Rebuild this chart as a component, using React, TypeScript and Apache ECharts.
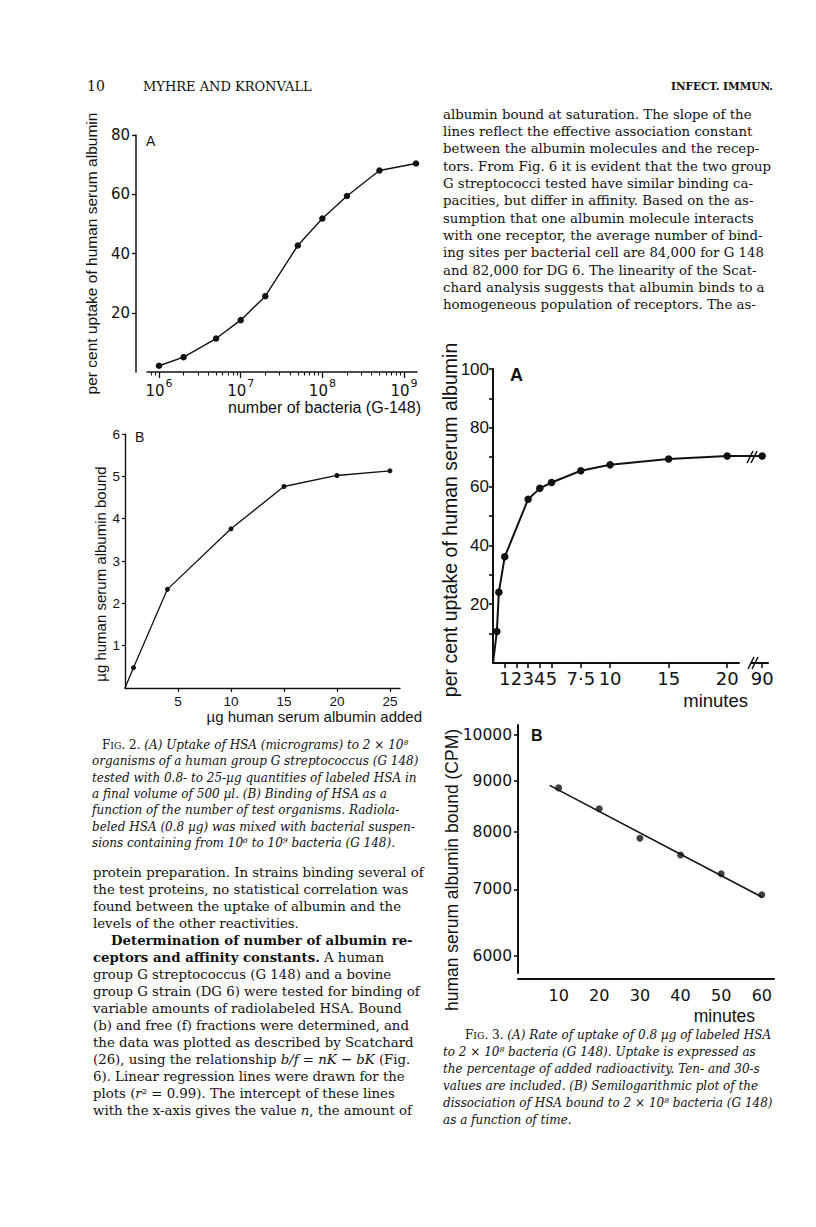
import React, { useEffect, useRef } from 'react';
import * as echarts from 'echarts';

// ---------- Fig. 2A : uptake vs number of bacteria (log x) ----------
const fig2aBacteria = [1e6, 2e6, 5e6, 1e7, 2e7, 5e7, 1e8, 2e8, 5e8, 1.4e9];
const fig2aUptake = [2.1, 5.0, 11.3, 17.5, 25.6, 42.7, 51.8, 59.4, 68.0, 70.4];
const fig2aDecades = [6, 7, 8, 9];
const fig2aMinorBacteria = [
  8e5, 9e5, 2e6, 3e6, 4e6, 5e6, 6e6, 7e6, 8e6, 9e6, 2e7, 3e7, 4e7, 5e7, 6e7, 7e7, 8e7, 9e7,
  2e8, 3e8, 4e8, 5e8, 6e8, 7e8, 8e8, 9e8,
];
const fig2aYTicks = [20, 40, 60, 80];

// ---------- Fig. 2B : bound vs added ----------
const fig2bAdded = [0, 0.8, 4, 10, 15, 20, 25];
const fig2bBound = [0, 0.48, 2.33, 3.76, 4.76, 5.02, 5.13];
const fig2bXTicks = [5, 10, 15, 20, 25];
const fig2bYTicks = [1, 2, 3, 4, 5, 6];

// ---------- Fig. 3A : uptake vs time (broken axis 20 -> 90) ----------
const fig3aMinutes = [0, 0.33, 0.5, 1, 3, 4, 5, 7.5, 10, 15, 20, 90];
const fig3aUptake = [0, 10.7, 24.1, 36.1, 55.7, 59.4, 61.4, 65.4, 67.4, 69.4, 70.4, 70.4];
const fig3aXTicks = [1, 2, 3, 4, 5, 7.5, 10, 15, 20, 90];
const fig3aYLabels = [20, 40, 60, 80, 100];
const fig3aYTicks = [10, 20, 30, 40, 50, 60, 70, 80, 90, 100];

// ---------- Fig. 3B : semilog dissociation ----------
const fig3bMinutes = [10, 20, 30, 40, 50, 60];
const fig3bCpm = [8849, 8434, 7879, 7578, 7257, 6915];
const fig3bFitMinutes = [7.8, 60];
const fig3bFitCpm = [8900, 6880];
const fig3bXTicks = [10, 20, 30, 40, 50, 60];
const fig3bYTicks = [6000, 7000, 8000, 9000, 10000];

const K = '#111';
const SANS = 'DejaVu Sans';
const NAME = 'Liberation Sans';
const SERIF = 'DejaVu Serif';
const lg = (v: number) => Math.log10(v);

type TStyle = { size: number; family: string; style?: string; weight?: string | number; align?: string };

function richFor(size: number, italicBase: boolean) {
  return {
    b: { fontSize: size, fontFamily: SERIF, fontWeight: 'bold', fontStyle: 'normal', fill: K },
    i: { fontSize: size, fontFamily: SERIF, fontStyle: 'italic', fill: K },
    n: { fontSize: size, fontFamily: SERIF, fontStyle: 'normal', fill: K },
    sc: { fontSize: size * 0.78, fontFamily: SERIF, fontStyle: 'normal', fill: K },
    r: { fontSize: size, fontFamily: SERIF, fontStyle: italicBase ? 'italic' : 'normal', fill: K },
  };
}

function txt(text: string, x: number, y: number, s: TStyle, extra: any = {}) {
  return {
    type: 'text',
    x,
    y,
    silent: true,
    ...extra,
    style: {
      text,
      fill: K,
      fontSize: s.size,
      fontFamily: s.family,
      fontStyle: s.style || 'normal',
      fontWeight: s.weight || 'normal',
      align: s.align || 'left',
      textAlign: s.align || 'left',
      verticalAlign: 'middle',
      textVerticalAlign: 'middle',
      rich: richFor(s.size, s.style === 'italic'),
    },
  };
}

function para(lines: string[], x: number, y0: number, dy: number, s: TStyle, indents: Record<number, number> = {}) {
  return lines.map((l, i) => txt(l, x + (indents[i] || 0), y0 + i * dy, s));
}

const rightTop = [
  'albumin bound at saturation. The slope of the',
  'lines reflect the effective association constant',
  'between the albumin molecules and the recep-',
  'tors. From Fig. 6 it is evident that the two group',
  'G streptococci tested have similar binding ca-',
  'pacities, but differ in affinity. Based on the as-',
  'sumption that one albumin molecule interacts',
  'with one receptor, the average number of bind-',
  'ing sites per bacterial cell are 84,000 for G 148',
  'and 82,000 for DG 6. The linearity of the Scat-',
  'chard analysis suggests that albumin binds to a',
  'homogeneous population of receptors. The as-',
];

const leftBody = [
  'protein preparation. In strains binding several of',
  'the test proteins, no statistical correlation was',
  'found between the uptake of albumin and the',
  'levels of the other reactivities.',
  '{b|Determination of number of albumin re-}',
  '{b|ceptors and affinity constants.} A human',
  'group G streptococcus (G 148) and a bovine',
  'group G strain (DG 6) were tested for binding of',
  'variable amounts of radiolabeled HSA. Bound',
  '(b) and free (f) fractions were determined, and',
  'the data was plotted as described by Scatchard',
  '(26), using the relationship {i|b/f} = {i|nK} − {i|bK} (Fig.',
  '6). Linear regression lines were drawn for the',
  'plots ({i|r}² = 0.99). The intercept of these lines',
  'with the x-axis gives the value {i|n}, the amount of',
];

const fig2Caption = [
  '{n|F}{sc|IG}{n|. 2.} (A) Uptake of HSA (micrograms) to 2 × 10⁸',
  'organisms of a human group G streptococcus (G 148)',
  'tested with 0.8- to 25-µg quantities of labeled HSA in',
  'a final volume of 500 µl. (B) Binding of HSA as a',
  'function of the number of test organisms. Radiola-',
  'beled HSA (0.8 µg) was mixed with bacterial suspen-',
  'sions containing from 10⁶ to 10⁹ bacteria (G 148).',
];

const fig3Caption = [
  '{n|F}{sc|IG}{n|. 3.} (A) Rate of uptake of 0.8 µg of labeled HSA',
  'to 2 × 10⁸ bacteria (G 148). Uptake is expressed as',
  'the percentage of added radioactivity. Ten- and 30-s',
  'values are included. (B) Semilogarithmic plot of the',
  'dissociation of HSA bound to 2 × 10⁸ bacteria (G 148)',
  'as a function of time.',
];

function buildOption() {
  const axisLine = (w: number) => ({ show: true, onZero: false, lineStyle: { color: K, width: w } });
  const tick = (vals: number[], len: number, w: number) => ({
    show: true,
    customValues: vals,
    length: len,
    lineStyle: { color: K, width: w },
  });
  const noSplit = { show: false };

  const bodyStyle: TStyle = { size: 13.3, family: SERIF };
  const capStyle: TStyle = { size: 12.0, family: SERIF, style: 'italic' };

  const graphics: any[] = [
    // running head
    txt('10', 87, 86, { size: 14, family: SERIF }),
    txt('MYHRE AND KRONVALL', 143, 86, { size: 13, family: SERIF }),
    txt('INFECT. IMMUN.', 773, 86, { size: 10.5, family: SERIF, weight: 'bold', align: 'right' }),
    // right column text
    ...para(rightTop, 443, 114, 17.35, bodyStyle),
    // left column body
    ...para(leftBody, 93, 872, 17.0, bodyStyle, { 4: 18 }),
    // captions
    ...para(fig2Caption, 92, 745, 16.3, capStyle, { 0: 10 }),
    ...para(fig3Caption, 443, 1035, 16.9, capStyle, { 0: 22 }),
    // panel letters
    txt('A', 146, 141, { size: 14, family: NAME }),
    txt('B', 135, 437, { size: 14, family: NAME }),
    txt('A', 510, 375, { size: 18, family: NAME, weight: 'bold' }),
    txt('B', 531, 735, { size: 16, family: NAME, weight: 'bold' }),
    // x-axis titles
    txt('number of bacteria (G-148)', 421, 407, { size: 16, family: NAME, align: 'right' }),
    txt('µg human serum albumin added', 422, 716, { size: 15, family: NAME, align: 'right' }),
    txt('minutes', 748, 700, { size: 18.5, family: NAME, align: 'right' }),
    txt('minutes', 755, 1016, { size: 17.5, family: NAME, align: 'right' }),
    // break marks on Fig 3A
    { type: 'line', silent: true, shape: { x1: 748, y1: 669, x2: 754, y2: 657 }, style: { stroke: K, lineWidth: 1.6 } },
    { type: 'line', silent: true, shape: { x1: 752, y1: 669, x2: 758, y2: 657 }, style: { stroke: K, lineWidth: 1.6 } },
    { type: 'line', silent: true, shape: { x1: 747, y1: 463, x2: 753, y2: 451 }, style: { stroke: K, lineWidth: 1.6 } },
    { type: 'line', silent: true, shape: { x1: 751, y1: 463, x2: 757, y2: 451 }, style: { stroke: K, lineWidth: 1.6 } },
  ];

  return {
    animation: false,
    backgroundColor: '#fff',
    textStyle: { fontFamily: SANS, color: K },
    grid: [
      { left: 147, top: 135, width: 270, height: 237 },
      { left: 125, top: 434, width: 275, height: 254 },
      { left: 493, top: 369, width: 275, height: 294 },
      { left: 518, top: 725, width: 256, height: 248 },
    ],
    xAxis: [
      {
        gridIndex: 0,
        type: 'value',
        position: 'bottom',
        min: lg(7.13e5),
        max: lg(1.44e9),
        axisLine: axisLine(1.5),
        axisTick: tick(fig2aDecades, 6, 1.3),
        axisLabel: {
          customValues: fig2aDecades,
          margin: 6,
          formatter: (v: number) => `{m|10}{e|${Math.round(v)}}`,
          rich: {
            m: { fontSize: 15, fontFamily: SANS, color: K, verticalAlign: 'bottom', lineHeight: 20 },
            e: { fontSize: 11, fontFamily: SANS, color: K, verticalAlign: 'top', lineHeight: 20, padding: [0, 0, 0, 1] },
          },
        },
        splitLine: noSplit,
      },
      {
        gridIndex: 0,
        type: 'value',
        position: 'bottom',
        min: lg(7.13e5),
        max: lg(1.44e9),
        axisLine: { show: false, onZero: false },
        axisTick: tick(fig2aMinorBacteria.map(lg), 3.5, 1.1),
        axisLabel: { show: false },
        splitLine: noSplit,
      },
      {
        gridIndex: 1,
        type: 'value',
        position: 'bottom',
        min: 0,
        max: 25.95,
        axisLine: axisLine(1.4),
        axisTick: tick(fig2bXTicks, 4, 1.2),
        axisLabel: { customValues: fig2bXTicks, margin: 6, fontSize: 13.5, fontFamily: NAME, color: K },
        splitLine: noSplit,
      },
      {
        gridIndex: 2,
        type: 'value',
        position: 'bottom',
        min: 0,
        max: 90.5,
        breaks: [{ start: 21, end: 89, gap: '4.2%' }],
        breakArea: { show: false },
        axisLine: axisLine(2),
        axisTick: tick(fig3aXTicks, 5, 1.6),
        axisLabel: {
          customValues: fig3aXTicks,
          margin: 6,
          fontSize: 18,
          fontFamily: SANS,
          color: K,
          formatter: (v: number) => (v === 7.5 ? '7·5' : String(v)),
        },
        splitLine: noSplit,
      },
      {
        gridIndex: 3,
        type: 'value',
        position: 'bottom',
        offset: 6,
        min: 0,
        max: 63,
        axisLine: axisLine(2),
        axisTick: { show: false },
        axisLabel: { customValues: fig3bXTicks, margin: 8, fontSize: 16, fontFamily: SANS, color: K },
        splitLine: noSplit,
      },
    ],
    yAxis: [
      {
        gridIndex: 0,
        type: 'value',
        min: 0,
        max: 80,
        offset: 11,
        axisLine: axisLine(1.5),
        axisTick: tick(fig2aYTicks, 4, 1.3),
        axisLabel: { customValues: fig2aYTicks, margin: 6, fontSize: 15, fontFamily: SANS, color: K },
        splitLine: noSplit,
        name: 'per cent uptake of human serum albumin',
        nameLocation: 'middle',
        nameGap: 37,
        nameMoveOverlap: false,
        nameTextStyle: { fontSize: 15.5, fontFamily: NAME, color: K },
      },
      {
        gridIndex: 1,
        type: 'value',
        min: 0,
        max: 6,
        axisLine: axisLine(1.4),
        axisTick: tick(fig2bYTicks, 3, 1.2),
        axisLabel: { customValues: fig2bYTicks, margin: 5, fontSize: 13.5, fontFamily: NAME, color: K },
        splitLine: noSplit,
        name: 'µg human serum albumin bound',
        nameLocation: 'middle',
        nameGap: 17,
        nameMoveOverlap: false,
        nameTextStyle: { fontSize: 15, fontFamily: NAME, color: K, padding: [0, 26, 0, 0] },
      },
      {
        gridIndex: 2,
        type: 'value',
        min: 0,
        max: 100,
        axisLine: axisLine(2),
        axisTick: tick(fig3aYTicks, 4, 1.6),
        axisLabel: { customValues: fig3aYLabels, margin: 4, fontSize: 17, fontFamily: NAME, color: K },
        splitLine: noSplit,
        name: 'per cent uptake of human serum albumin',
        nameLocation: 'middle',
        nameGap: 33,
        nameMoveOverlap: false,
        nameTextStyle: { fontSize: 19.5, fontFamily: NAME, color: K, padding: [0, 8, 0, 0] },
      },
      {
        gridIndex: 3,
        type: 'value',
        min: lg(5772),
        max: lg(10232),
        axisLine: axisLine(2),
        axisTick: tick(fig3bYTicks.map(lg), 4, 1.6),
        axisLabel: {
          customValues: fig3bYTicks.map(lg),
          margin: 6,
          fontSize: 15.5,
          fontFamily: SANS,
          color: K,
          formatter: (v: number) => String(Math.round(Math.pow(10, v) / 100) * 100),
        },
        splitLine: noSplit,
        name: 'human serum albumin bound (CPM)',
        nameLocation: 'middle',
        nameGap: 57,
        nameMoveOverlap: false,
        nameTextStyle: { fontSize: 17.5, fontFamily: NAME, color: K, padding: [0, 42, 0, 0] },
      },
    ],
    series: [
      {
        type: 'line',
        xAxisIndex: 0,
        yAxisIndex: 0,
        data: fig2aBacteria.map((n, i) => [lg(n), fig2aUptake[i]]),
        symbol: 'circle',
        symbolSize: 6.5,
        itemStyle: { color: K },
        lineStyle: { color: K, width: 1.4 },
      },
      {
        type: 'line',
        xAxisIndex: 2,
        yAxisIndex: 1,
        data: fig2bAdded.map((x, i) =>
          i === 0 ? { value: [x, fig2bBound[i]], symbol: 'none' } : [x, fig2bBound[i]]
        ),
        symbol: 'circle',
        symbolSize: 5,
        itemStyle: { color: K },
        lineStyle: { color: K, width: 1.3 },
      },
      {
        type: 'line',
        xAxisIndex: 3,
        yAxisIndex: 2,
        data: fig3aMinutes.map((t, i) =>
          i === 0 ? { value: [t, fig3aUptake[i]], symbol: 'none' } : [t, fig3aUptake[i]]
        ),
        symbol: 'circle',
        symbolSize: 7.5,
        itemStyle: { color: K },
        lineStyle: { color: K, width: 2 },
      },
      {
        type: 'scatter',
        xAxisIndex: 4,
        yAxisIndex: 3,
        data: fig3bMinutes.map((t, i) => [t, lg(fig3bCpm[i])]),
        symbol: 'circle',
        symbolSize: 7,
        itemStyle: { color: K },
      },
      {
        type: 'line',
        xAxisIndex: 4,
        yAxisIndex: 3,
        data: fig3bFitMinutes.map((t, i) => [t, lg(fig3bFitCpm[i])]),
        symbol: 'none',
        lineStyle: { color: K, width: 1.6 },
      },
    ],
    graphic: { elements: graphics },
  };
}

export default function App() {
  const ref = useRef<HTMLDivElement>(null);
  useEffect(() => {
    if (!ref.current) return;
    const chart = echarts.init(ref.current, undefined, { renderer: 'svg' });
    chart.setOption(buildOption() as any);
    return () => chart.dispose();
  }, []);
  return (
    <div
      ref={ref}
      style={{ position: 'absolute', left: 0, top: 0, width: 816, height: 1227, background: '#fff' }}
    />
  );
}
